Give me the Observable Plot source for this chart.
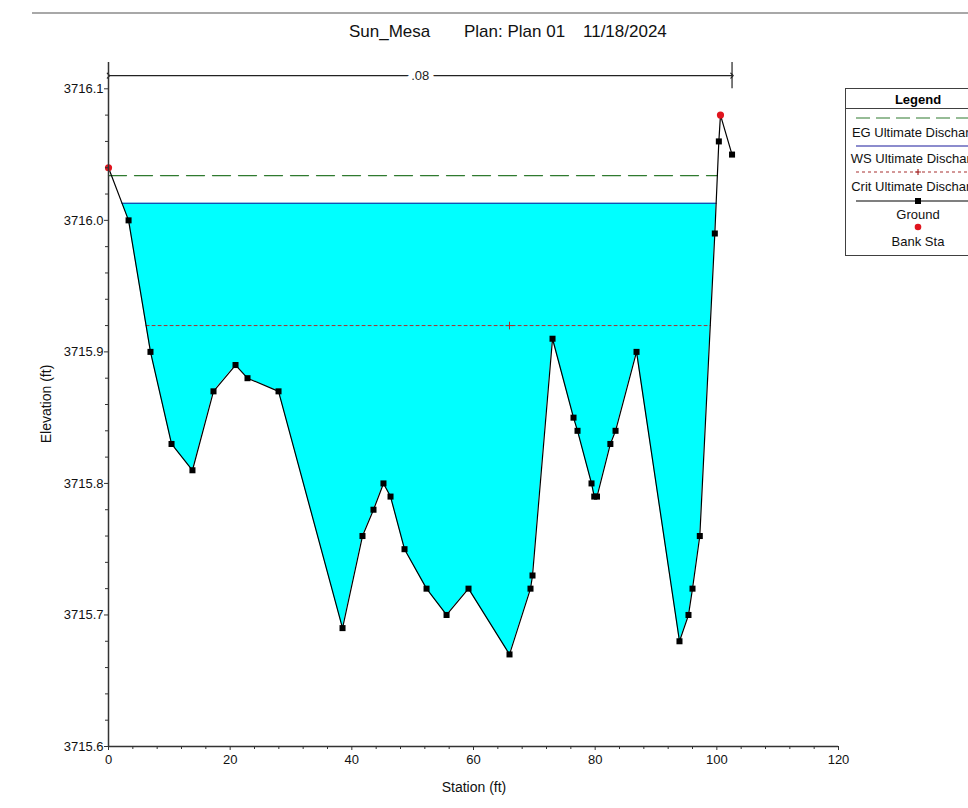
<!DOCTYPE html>
<html><head><meta charset="utf-8">
<script src="https://cdn.jsdelivr.net/npm/d3@7"></script>
<script src="https://cdn.jsdelivr.net/npm/@observablehq/plot@0.6"></script>
<style>
html,body{margin:0;padding:0;background:#fff;overflow:hidden;}
body{width:968px;height:808px;position:relative;font-family:"Liberation Sans",Arial,sans-serif;color:#111;}
#chart{position:absolute;left:0;top:0;}
#topline{position:absolute;left:32px;top:12px;width:936px;height:2px;background:#a8a8a8;}
.title{position:absolute;top:22px;font-size:17px;white-space:pre;line-height:20px;}
#ylabel{position:absolute;left:46px;top:404px;transform:translate(-50%,-50%) rotate(-90deg);font-size:14px;white-space:nowrap;}
#xlabel{position:absolute;left:474px;top:787px;transform:translate(-50%,-50%);font-size:14px;white-space:nowrap;}
#legend{position:absolute;left:845px;top:88px;width:146px;height:166px;border:1px solid #404040;background:#fff;overflow:hidden;}
</style></head><body>
<div id="topline"></div>
<div id="chart"></div>
<div id="titles"></div>
<div id="ylabel"></div>
<div id="xlabel"></div>
<div id="legend"></div>
<script>
// ---------- data ----------
const titleParts = ["Sun_Mesa", "Plan: Plan 01", "11/18/2024"];
const xTitle = "Station (ft)";
const yTitle = "Elevation (ft)";

const stations   = [0, 3.3, 6.9, 10.36, 13.8, 17.26, 20.88, 22.85, 27.95, 38.47, 41.75, 43.56, 45.2, 46.36, 48.66, 52.28, 55.57, 59.18, 65.92, 69.37, 69.7, 72.99, 76.44, 77.1, 79.4, 79.85, 80.3, 82.5, 83.35, 86.8, 93.86, 95.34, 96.0, 97.2, 99.67, 100.33, 100.6, 102.5];
const elevations = [3716.04, 3716.00, 3715.90, 3715.83, 3715.81, 3715.87, 3715.89, 3715.88, 3715.87, 3715.69, 3715.76, 3715.78, 3715.80, 3715.79, 3715.75, 3715.72, 3715.70, 3715.72, 3715.67, 3715.72, 3715.73, 3715.91, 3715.85, 3715.84, 3715.80, 3715.79, 3715.79, 3715.83, 3715.84, 3715.90, 3715.68, 3715.70, 3715.72, 3715.76, 3715.99, 3716.06, 3716.08, 3716.05];
const bankStations = [0, 100.6];

const wsElev = 3716.013;    // WS Ultimate Discharge
const egElev = 3716.034;    // EG Ultimate Discharge
const critElev = 3715.92;   // Crit Ultimate Discharge
const critMarkerStation = 65.92;

const nLabels = [".08"];
const nStarts = [0];
const nEnds = [102.5];
const nElev = 3716.11;
const nTickTop = 3716.12;
const nTickBottom = 3716.1;

const xDomain = [0, 120];
const yDomain = [3715.6, 3716.12];
const xTicks = [0, 20, 40, 60, 80, 100, 120];
const xMinorTicks = [4, 8, 12, 16, 24, 28, 32, 36, 44, 48, 52, 56, 64, 68, 72, 76, 84, 88, 92, 96, 104, 108, 112, 116];
const yTicks = [3715.6, 3715.7, 3715.8, 3715.9, 3716.0, 3716.1];
const yMinorTicks = [3715.62, 3715.64, 3715.66, 3715.68, 3715.72, 3715.74, 3715.76, 3715.78, 3715.82, 3715.84, 3715.86, 3715.88, 3715.92, 3715.94, 3715.96, 3715.98, 3716.02, 3716.04, 3716.06, 3716.08];

const legendTitle = "Legend";
const legendLabels = ["EG Ultimate Discharge", "WS Ultimate Discharge", "Crit Ultimate Discharge", "Ground", "Bank Sta"];

// ---------- colors ----------
const C = {water:"#00ffff", ws:"#1a1a9c", eg:"#2f7a2f", crit:"#a83030", ground:"#000", bank:"#e0141e", axis:"#333"};

// ---------- derived ----------
const ground = stations.map((x, i) => ({x, y: elevations[i]}));
const bankPts = ground.filter(d => bankStations.includes(d.x));
const squarePts = ground.filter(d => !bankStations.includes(d.x));

function crossings(level) {
  let left = null, right = null;
  for (let i = 0; i < ground.length - 1; i++) {
    const a = ground[i], b = ground[i + 1];
    if (a.y >= level && b.y < level) { left = {x: a.x + (b.x - a.x) * (a.y - level) / (a.y - b.y), y: level, i}; break; }
  }
  for (let i = ground.length - 2; i >= 0; i--) {
    const a = ground[i], b = ground[i + 1];
    if (a.y < level && b.y >= level) { right = {x: a.x + (b.x - a.x) * (level - a.y) / (b.y - a.y), y: level, i}; break; }
  }
  return [left, right];
}
const [wsL, wsR] = crossings(wsElev);
const wet = [{x: wsL.x, y: wsElev, top: wsElev}]
  .concat(ground.filter(d => d.x > wsL.x && d.x < wsR.x).map(d => ({x: d.x, y: d.y, top: wsElev})))
  .concat([{x: wsR.x, y: wsElev, top: wsElev}]);
const wsLine = [{x: wsL.x, y: wsElev}, {x: wsR.x, y: wsElev}];
const [egL, egR] = crossings(egElev);
const egLine = [{x: 0, y: egElev}, {x: egR.x, y: egElev}];
const [crL, crR] = crossings(critElev);
const critLine = [{x: crL.x, y: critElev}, {x: crR.x, y: critElev}];
const critMark = [{x: critMarkerStation, y: critElev}];
const nData = nLabels.map((t, i) => ({t, x1: nStarts[i], x2: nEnds[i], xm: (nStarts[i] + nEnds[i]) / 2, y: nElev}));

// ---------- chart ----------
const chart = Plot.plot({
  width: 968, height: 808,
  marginTop: 62, marginRight: 130, marginBottom: 62, marginLeft: 108,
  x: {domain: xDomain},
  y: {domain: yDomain},
  style: {fontFamily: "Liberation Sans, Arial, sans-serif", fontSize: "13px", color: "#111", background: "transparent", overflow: "visible"},
  marks: [
    Plot.areaY(wet, {x: "x", y1: "y", y2: "top", fill: C.water}),
    Plot.line(wsLine, {x: "x", y: "y", stroke: C.ws, strokeWidth: 1.2}),
    Plot.line(egLine, {x: "x", y: "y", stroke: C.eg, strokeWidth: 1.3, strokeDasharray: "18,8"}),
    Plot.line(critLine, {x: "x", y: "y", stroke: C.crit, strokeWidth: 1, strokeDasharray: "3,3"}),
    Plot.dot(critMark, {x: "x", y: "y", symbol: "plus", r: 2.6, stroke: C.crit, strokeWidth: 1}),
    Plot.line(ground, {x: "x", y: "y", stroke: C.ground, strokeWidth: 1.2}),
    Plot.dot(squarePts, {x: "x", y: "y", symbol: "square", r: 3.4, fill: C.ground}),
    Plot.dot(bankPts, {x: "x", y: "y", r: 3.6, fill: C.bank}),
    Plot.link(nData, {x1: "x1", x2: "x2", y1: "y", y2: "y", stroke: "#222", strokeWidth: 1.2, markerStart: "arrow", markerEnd: "arrow"}),
    Plot.text(nData, {x: "xm", y: "y", text: "t", fill: "#222", stroke: "white", strokeWidth: 10, fontSize: 13}),
    Plot.ruleX(nEnds, {y1: nTickBottom, y2: nTickTop, stroke: "#222", strokeWidth: 1.2}),
    Plot.ruleX([xDomain[0]], {y1: yDomain[0], y2: yDomain[1], stroke: C.axis, strokeWidth: 1.5}),
    Plot.ruleY([yDomain[0]], {x1: xDomain[0], x2: xDomain[1], stroke: C.axis, strokeWidth: 1.5}),
    Plot.axisY({ticks: yTicks, tickSize: 4, tickPadding: 1, tickFormat: d => d.toFixed(1), label: null, stroke: C.axis}),
    Plot.axisY({ticks: yMinorTicks, tickSize: 3, tickFormat: () => "", label: null, stroke: C.axis}),
    Plot.axisX({ticks: xTicks, tickSize: 4, tickPadding: 4, tickFormat: d => String(d), label: null, stroke: C.axis}),
    Plot.axisX({ticks: xMinorTicks, tickSize: 3, tickFormat: () => "", label: null, stroke: C.axis})
  ]
});
document.getElementById("chart").appendChild(chart);

// ---------- titles ----------
const titleLefts = [349, 464, 583];
const titles = d3.select("#titles");
titleParts.forEach((t, i) => titles.append("div").attr("class", "title").style("left", titleLefts[i] + "px").text(t));
document.getElementById("xlabel").textContent = xTitle;
document.getElementById("ylabel").textContent = yTitle;

// ---------- legend ----------
const lg = d3.select("#legend").append("svg").attr("width", 146).attr("height", 166)
  .style("font-family", "Liberation Sans, Arial, sans-serif").style("font-size", "13px");
const cx = 72;
lg.append("text").attr("x", cx).attr("y", 10).attr("text-anchor", "middle").attr("dominant-baseline", "central")
  .style("font-weight", "bold").text(legendTitle);
lg.append("line").attr("x1", 0).attr("x2", 146).attr("y1", 19.5).attr("y2", 19.5).attr("stroke", "#404040");
const rows = [
  {sy: 29, ty: 43, stroke: C.eg, dash: "14,6"},
  {sy: 57, ty: 69, stroke: C.ws, dash: null},
  {sy: 83, ty: 97, stroke: C.crit, dash: "3,3", sym: "plus"},
  {sy: 112, ty: 125, stroke: "#000", dash: null, sym: "square"},
  {sy: 138, ty: 152, stroke: null, sym: "bank"}
];
rows.forEach((r, i) => {
  if (r.stroke) {
    const ln = lg.append("line").attr("x1", 10).attr("x2", 136).attr("y1", r.sy).attr("y2", r.sy)
      .attr("stroke", r.stroke).attr("stroke-width", 1.2);
    if (r.dash) ln.attr("stroke-dasharray", r.dash);
  }
  if (r.sym === "plus") {
    lg.append("path").attr("d", `M${cx-3},${r.sy}H${cx+3}M${cx},${r.sy-3}V${r.sy+3}`).attr("stroke", C.crit).attr("stroke-width", 1.2);
  } else if (r.sym === "square") {
    lg.append("rect").attr("x", cx - 3).attr("y", r.sy - 3).attr("width", 6).attr("height", 6).attr("fill", "#000");
  } else if (r.sym === "bank") {
    lg.append("circle").attr("cx", cx).attr("cy", r.sy).attr("r", 3.3).attr("fill", C.bank);
  }
  lg.append("text").attr("x", cx).attr("y", r.ty).attr("text-anchor", "middle").attr("dominant-baseline", "central")
    .attr("fill", "#111").text(legendLabels[i]);
});
</script>
</body></html>
